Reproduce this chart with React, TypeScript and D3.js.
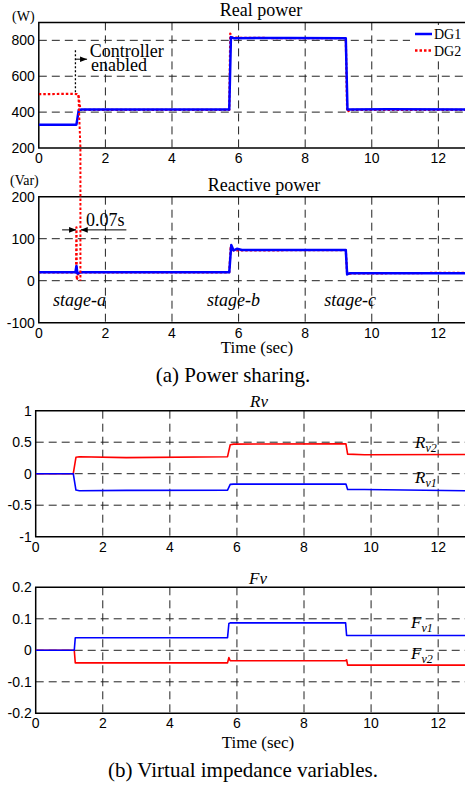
import React, { useEffect, useRef } from "react";
import * as d3 from "d3";

const width = 465,
  height = 787;

const blue = "#0000ff",
  red = "#ff0000";
const sans = "'Liberation Sans', Arial, sans-serif";
const serif = "'Liberation Serif', 'Times New Roman', serif";

const timeTicks = [0, 2, 4, 6, 8, 10, 12];

// (a) real power, W
const realTicks = [200, 400, 600, 800];
const realT1 = [0, 1.13, 1.2, 1.3, 3.0, 5.72, 5.77, 5.85, 7.5, 9.22, 9.27, 10.5, 12.8];
const realDG1 = [330, 330, 412, 415, 414, 415, 818, 812, 813, 812, 415, 416, 415];
const realT2 = [0, 1.0, 1.15, 1.19, 1.25, 3.0, 5.72, 5.75, 5.8, 7.5, 9.22, 9.26, 9.35, 12.8];
const realDG2 = [500, 502, 500, 495, 412, 413, 412, 838, 815, 812, 812, 402, 412, 412];

// (a) reactive power, Var
const reacTicks = [-100, 0, 100, 200];
const reacT1 = [0, 1.1, 1.13, 1.16, 1.25, 5.72, 5.78, 5.85, 5.95, 6.1, 9.22, 9.26, 9.35, 12.8];
const reacDG1 = [20, 20, 35, 17, 20, 20, 85, 72, 76, 73, 73, 15, 18, 18];
const reacT2 = [0, 1.12, 1.13, 1.14, 1.2, 5.72, 5.76, 5.85, 9.22, 9.26, 12.8];
const reacDG2 = [20, 20, 127, 2, 20, 20, 78, 72, 73, 17, 19];

// (b) Rv
const rvTicks = [-1, -0.5, 0, 0.5, 1];
const rvLabels = ["-1", "-0.5", "0", "0.5", "1"];
const rvT = [0, 1.12, 1.2, 1.3, 2.7, 5.72, 5.8, 5.9, 9.25, 9.3, 9.8, 12.8];
const rv1 = [0, 0, -0.26, -0.27, -0.265, -0.26, -0.17, -0.165, -0.165, -0.25, -0.25, -0.27];
const rv2 = [0, 0, 0.26, 0.27, 0.255, 0.27, 0.46, 0.47, 0.475, 0.31, 0.3, 0.305];

// (b) Fv
const fvTicks = [-0.2, -0.1, 0, 0.1, 0.2];
const fvLabels = ["-0.2", "-0.1", "0", "0.1", "0.2"];
const fvT = [0, 1.15, 1.18, 5.72, 5.76, 5.8, 9.24, 9.27, 9.3, 12.8];
const fv1 = [0, 0, 0.04, 0.04, 0.085, 0.087, 0.087, 0.047, 0.047, 0.047];
const fv2 = [0, 0, -0.04, -0.04, -0.023, -0.033, -0.033, -0.03, -0.047, -0.047];

const zip = (t: number[], v: number[]) => t.map((d, i) => [d, v[i]] as [number, number]);

type Panel = {
  id: string;
  left: number;
  top: number;
  bottom: number;
  yDomain: [number, number];
  yTicks: number[];
  yLabels: string[];
};

const panels: Panel[] = [
  { id: "p1", left: 38.8, top: 22.4, bottom: 148, yDomain: [200, 900], yTicks: realTicks, yLabels: realTicks.map(String) },
  { id: "p2", left: 38.8, top: 196.7, bottom: 322.7, yDomain: [-100, 200], yTicks: reacTicks, yLabels: reacTicks.map(String) },
  { id: "p3", left: 35.7, top: 410.7, bottom: 536.7, yDomain: [-1, 1], yTicks: rvTicks, yLabels: rvLabels },
  { id: "p4", left: 35.7, top: 587.3, bottom: 713.3, yDomain: [-0.2, 0.2], yTicks: fvTicks, yLabels: fvLabels },
];

function scalesFor(p: Panel) {
  const x = d3.scaleLinear().domain([0, 12.8]).range([p.left, width]);
  const y = d3.scaleLinear().domain(p.yDomain).range([p.bottom, p.top]);
  return { x, y };
}

export default function App() {
  const svgRef = useRef<SVGSVGElement>(null);

  useEffect(() => {
    const svg = d3.select(svgRef.current);
    svg.selectAll("*").remove();

    const defs = svg.append("defs");
    defs
      .append("marker")
      .attr("id", "arr")
      .attr("viewBox", "0 0 10 10")
      .attr("refX", 10)
      .attr("refY", 5)
      .attr("markerWidth", 7)
      .attr("markerHeight", 7)
      .attr("orient", "auto")
      .append("path")
      .attr("d", "M0,1 L10,5 L0,9 Z")
      .attr("fill", "#000");

    const sc = panels.map(scalesFor);

    panels.forEach((p, i) => {
      const { x, y } = sc[i];
      defs
        .append("clipPath")
        .attr("id", "clip-" + p.id)
        .append("rect")
        .attr("x", p.left)
        .attr("y", p.top)
        .attr("width", width - p.left)
        .attr("height", p.bottom - p.top);

      const g = svg.append("g").attr("class", "frame-" + p.id);
      // grid
      g.selectAll(".vg")
        .data(timeTicks.filter(t => t > 0))
        .enter()
        .append("line")
        .attr("x1", d => x(d))
        .attr("x2", d => x(d))
        .attr("y1", p.top)
        .attr("y2", p.bottom)
        .attr("stroke", "#222")
        .attr("stroke-width", 1)
        .attr("stroke-dasharray", "8,5");
      g.selectAll(".hg")
        .data(p.yTicks.filter(t => t > p.yDomain[0] && t < p.yDomain[1]))
        .enter()
        .append("line")
        .attr("x1", p.left)
        .attr("x2", width)
        .attr("y1", d => y(d))
        .attr("y2", d => y(d))
        .attr("stroke", "#222")
        .attr("stroke-width", 1)
        .attr("stroke-dasharray", "8,5");
      // frame
      g.append("path")
        .attr("d", `M${width},${p.top} H${p.left} V${p.bottom} H${width}`)
        .attr("fill", "none")
        .attr("stroke", "#000")
        .attr("stroke-width", 1.5);
      // ticks
      g.selectAll(".xt")
        .data(timeTicks)
        .enter()
        .append("text")
        .attr("x", d => x(d))
        .attr("y", p.bottom + 15)
        .attr("text-anchor", "middle")
        .attr("font-family", sans)
        .attr("font-size", 14)
        .text(d => d);
      g.selectAll(".yt")
        .data(p.yTicks)
        .enter()
        .append("text")
        .attr("x", p.left - 4)
        .attr("y", d => y(d) + 5)
        .attr("text-anchor", "end")
        .attr("font-family", sans)
        .attr("font-size", 14)
        .text((d, j) => p.yLabels[j]);
    });

    const line = (i: number) =>
      d3
        .line<[number, number]>()
        .x(d => sc[i].x(d[0]))
        .y(d => sc[i].y(d[1]));

    const plot = (i: number, data: [number, number][], color: string, w: number, dash?: string) => {
      svg
        .append("path")
        .datum(data)
        .attr("clip-path", `url(#clip-${panels[i].id})`)
        .attr("d", line(i))
        .attr("fill", "none")
        .attr("stroke", color)
        .attr("stroke-width", w)
        .attr("stroke-linejoin", "round")
        .attr("stroke-dasharray", dash || null);
    };

    plot(0, zip(realT2, realDG2), red, 2.2, "2.5,2");
    plot(0, zip(realT1, realDG1), blue, 2.5);
    plot(1, zip(reacT2, reacDG2), red, 2.2, "2.5,2");
    plot(1, zip(reacT1, reacDG1), blue, 2.5);
    plot(2, zip(rvT, rv2), red, 1.6);
    plot(2, zip(rvT, rv1), blue, 1.6);
    plot(3, zip(fvT, fv2), red, 1.6);
    plot(3, zip(fvT, fv1), blue, 1.6);

    // DG2 enable drop that runs into the reactive panel
    const [a, b] = sc;
    svg
      .append("path")
      .attr("d", `M${a.x(1.19)},${a.y(495)} L${a.x(1.25)},${a.y(200)} L${b.x(1.25)},${b.y(0)}`)
      .attr("fill", "none")
      .attr("stroke", red)
      .attr("stroke-width", 2)
      .attr("stroke-dasharray", "2.5,2");

    // controller enabled annotation
    svg
      .append("line")
      .attr("x1", a.x(1.1))
      .attr("x2", a.x(1.1))
      .attr("y1", a.y(745))
      .attr("y2", a.y(502))
      .attr("stroke", "#000")
      .attr("stroke-width", 1.3)
      .attr("stroke-dasharray", "2,2");
    svg
      .append("line")
      .attr("x1", a.x(1.1))
      .attr("x2", a.x(1.45))
      .attr("y1", a.y(695))
      .attr("y2", a.y(695))
      .attr("stroke", "#000")
      .attr("stroke-width", 1)
      .attr("marker-end", "url(#arr)");
    const ann = svg.append("text").attr("font-family", serif).attr("font-size", 18);
    ann.append("tspan").attr("x", a.x(1.53)).attr("y", a.y(709)).text("Controller");
    ann.append("tspan").attr("x", a.x(1.57)).attr("y", a.y(631)).text("enabled");

    // legend
    const lg = svg.append("g");
    lg.append("rect").attr("x", 410).attr("y", 25).attr("width", 55).attr("height", 34).attr("fill", "#fff");
    [
      ["DG1", blue, null, 34],
      ["DG2", red, "2.5,2", 50.5],
    ].forEach(([name, color, dash, yy]) => {
      lg.append("line")
        .attr("x1", 415)
        .attr("x2", 432)
        .attr("y1", yy as number)
        .attr("y2", yy as number)
        .attr("stroke", color as string)
        .attr("stroke-width", 2.5)
        .attr("stroke-dasharray", dash as string | null);
      lg.append("text")
        .attr("x", 434)
        .attr("y", (yy as number) + 5)
        .attr("font-family", serif)
        .attr("font-size", 14)
        .text(name as string);
    });

    // 0.07s annotation
    svg
      .append("line")
      .attr("x1", b.x(0.7))
      .attr("x2", b.x(1.12))
      .attr("y1", b.y(121))
      .attr("y2", b.y(121))
      .attr("stroke", "#000")
      .attr("stroke-width", 1)
      .attr("marker-end", "url(#arr)");
    svg
      .append("line")
      .attr("x1", b.x(2.63))
      .attr("x2", b.x(1.26))
      .attr("y1", b.y(121))
      .attr("y2", b.y(121))
      .attr("stroke", "#000")
      .attr("stroke-width", 1)
      .attr("marker-end", "url(#arr)");
    svg
      .append("text")
      .attr("x", b.x(1.42))
      .attr("y", b.y(131))
      .attr("font-family", serif)
      .attr("font-size", 18)
      .text("0.07s");

    // stage labels
    [
      ["stage-a", 1.22],
      ["stage-b", 5.85],
      ["stage-c", 9.35],
    ].forEach(([s, t]) => {
      svg
        .append("text")
        .attr("x", b.x(t as number))
        .attr("y", b.y(-60))
        .attr("text-anchor", "middle")
        .attr("font-family", serif)
        .attr("font-style", "italic")
        .attr("font-size", 18)
        .text(s as string);
    });

    // titles and units
    const txt = (x: number, y: number, s: string, size: number, anchor = "middle", italic = false) =>
      svg
        .append("text")
        .attr("x", x)
        .attr("y", y)
        .attr("text-anchor", anchor)
        .attr("font-family", serif)
        .attr("font-size", size)
        .attr("font-style", italic ? "italic" : null)
        .text(s);

    txt(261, 16, "Real power", 18);
    txt(12, 21, "(W)", 14, "start");
    txt(264, 191, "Reactive power", 18);
    txt(10, 185, "(Var)", 14, "start");
    txt(257, 353, "Time (sec)", 17);
    txt(233, 382, "(a) Power sharing.", 21);
    txt(259, 407, "Rv", 17, "middle", true);
    txt(258, 584, "Fv", 17, "middle", true);
    txt(258, 748, "Time (sec)", 17);
    txt(243, 777, "(b) Virtual impedance variables.", 21);

    // curve labels with subscripts
    const sub = (x: number, y: number, main: string, s: string) => {
      const t = svg
        .append("text")
        .attr("x", x)
        .attr("y", y)
        .attr("font-family", serif)
        .attr("font-style", "italic")
        .attr("font-size", 17);
      t.append("tspan").text(main);
      t.append("tspan").attr("font-size", 12).attr("dy", 4).text(s);
    };
    sub(415, 448, "R", "v2");
    sub(415, 483, "R", "v1");
    sub(411, 628, "F", "v1");
    sub(411, 659, "F", "v2");
  }, []);

  return (
    <div style={{ position: "absolute", left: 0, top: 0 }}>
      <svg ref={svgRef} width={width} height={height} style={{ display: "block", background: "#fff" }} />
    </div>
  );
}
